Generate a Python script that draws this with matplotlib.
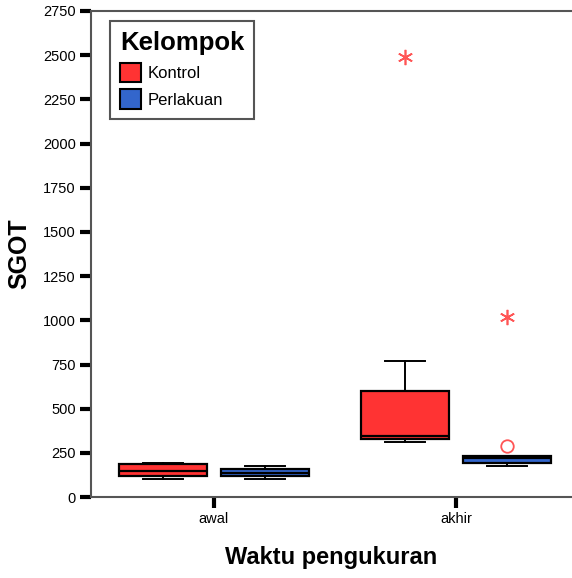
import matplotlib
matplotlib.use("Agg")
import matplotlib.pyplot as plt
from matplotlib.patches import Patch

plt.rcParams['font.family'] = ['Liberation Sans', 'DejaVu Sans']

# Time points and groups
waktu = ["awal", "akhir"]
kelompok = ["Kontrol", "Perlakuan"]
warna = ["#FF3333", "#3366CC"]

# Box statistics per group, ordered by time point (awal, akhir)
kontrol_whislo = [100, 309]
kontrol_q1 = [118, 331]
kontrol_med = [148, 347]
kontrol_q3 = [186, 598]
kontrol_whishi = [195, 771]
kontrol_outliers = [[], []]
kontrol_extremes = [[], [2490]]

perlakuan_whislo = [100, 178]
perlakuan_q1 = [118, 193]
perlakuan_med = [137, 220]
perlakuan_q3 = [157, 233]
perlakuan_whishi = [178, 233]
perlakuan_outliers = [[], [290]]
perlakuan_extremes = [[], [1019]]

y_ticks = [0, 250, 500, 750, 1000, 1250, 1500, 1750, 2000, 2250, 2500, 2750]

fig = plt.figure(figsize=(5.72, 5.78), dpi=100)
ax = fig.add_axes([0.159, 0.140, 0.841, 0.841])

groups = [
    (kontrol_whislo, kontrol_q1, kontrol_med, kontrol_q3, kontrol_whishi,
     kontrol_outliers, kontrol_extremes),
    (perlakuan_whislo, perlakuan_q1, perlakuan_med, perlakuan_q3, perlakuan_whishi,
     perlakuan_outliers, perlakuan_extremes),
]
offset = 0.21
width = 0.364
for gi, (wlo, q1, med, q3, whi, outl, ext) in enumerate(groups):
    stats = []
    for ti in range(len(waktu)):
        stats.append(dict(whislo=wlo[ti], q1=q1[ti], med=med[ti], q3=q3[ti],
                          whishi=whi[ti], fliers=[]))
    pos = [ti + 1 + (offset if gi else -offset) for ti in range(len(waktu))]
    ax.bxp(stats, positions=pos, widths=width, patch_artist=True,
           showfliers=False, capwidths=width * 0.45,
           boxprops=dict(facecolor=warna[gi], edgecolor="black", linewidth=1.6),
           medianprops=dict(color="black", linewidth=1.6),
           whiskerprops=dict(color="black", linewidth=1.4),
           capprops=dict(color="black", linewidth=1.4))
    for ti in range(len(waktu)):
        if outl[ti]:
            ax.plot([pos[ti]] * len(outl[ti]), outl[ti], linestyle="none",
                    marker="o", markersize=9, markerfacecolor="none",
                    markeredgecolor="#FF5555", markeredgewidth=1.3)
        if ext[ti]:
            ax.plot([pos[ti]] * len(ext[ti]), ext[ti], linestyle="none",
                    marker=(6, 2, 0), markersize=11,
                    markeredgecolor="#FF5555", markeredgewidth=1.2)

ax.set_xlim(0.492, 2.479)
ax.set_ylim(0, 2750)
ax.set_xticks([1, 2])
ax.set_xticklabels(waktu, fontsize=10.5)
ax.set_yticks(y_ticks)
ax.set_yticklabels([str(v) for v in y_ticks], fontsize=10.5)
ax.tick_params(axis="both", length=8, width=3, color="black", pad=3)

for side in ["left", "bottom", "top"]:
    ax.spines[side].set_color("#555555")
    ax.spines[side].set_linewidth(1.5)
ax.spines["right"].set_visible(False)

ax.set_xlabel("Waktu pengukuran", fontsize=17, fontweight="bold", labelpad=14)
ax.set_ylabel("SGOT", fontsize=18, fontweight="bold", labelpad=8)

handles = [Patch(facecolor=warna[i], edgecolor="black", linewidth=1.5, label=kelompok[i])
           for i in range(len(kelompok))]
leg = ax.legend(handles=handles, title="Kelompok", loc="upper left",
                bbox_to_anchor=(0.0395, 0.979), borderaxespad=0, fontsize=12,
                fancybox=False, edgecolor="#555555", framealpha=1,
                handlelength=1.25, handleheight=1.4, handletextpad=0.4,
                borderpad=0.6, labelspacing=0.45, alignment="left",
                title_fontproperties=dict(size=18.5, weight="bold"))
leg.get_frame().set_linewidth(1.5)

fig.savefig("out.png", dpi=100)
